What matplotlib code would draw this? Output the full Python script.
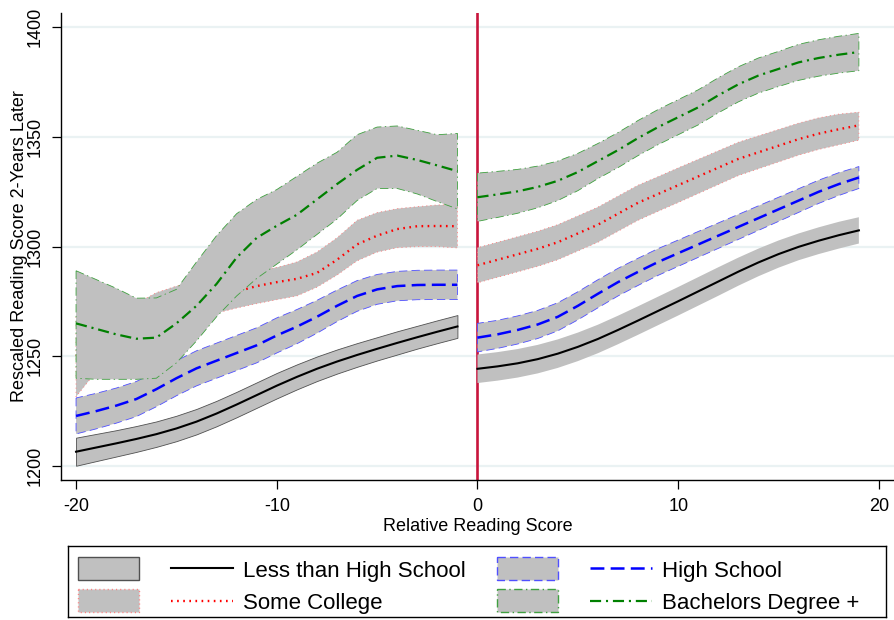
import matplotlib
matplotlib.use("Agg")
import matplotlib.pyplot as plt
from matplotlib.patches import Rectangle
from matplotlib.lines import Line2D

plt.rcParams['font.family'] = ['Liberation Sans', 'DejaVu Sans']
plt.rcParams['lines.scale_dashes'] = False

# ---------------- data ----------------
x_left = [-20, -19, -18, -17, -16, -15, -14, -13, -12, -11, -10, -9, -8, -7, -6, -5, -4, -3, -2, -1]
x_right = [0, 1, 2, 3, 4, 5, 6, 7, 8, 9, 10, 11, 12, 13, 14, 15, 16, 17, 18, 19]

# Less than High School
lths_left = [1206.5, 1208.4, 1210.3, 1212.3, 1214.5, 1217.1, 1220.2, 1223.9, 1228, 1232.3, 1236.6, 1240.6, 1244.3, 1247.6, 1250.6, 1253.4, 1256.1, 1258.7, 1261.2, 1263.6]
lths_left_lo = [1200.1, 1202.2, 1204.3, 1206.4, 1208.7, 1211.3, 1214.4, 1218.1, 1222.2, 1226.5, 1230.8, 1234.9, 1238.7, 1242.1, 1245.2, 1248.1, 1250.8, 1253.5, 1256, 1258.4]
lths_left_hi = [1212.9, 1214.6, 1216.3, 1218.2, 1220.3, 1222.9, 1226, 1229.7, 1233.8, 1238.1, 1242.4, 1246.3, 1249.9, 1253.1, 1256, 1258.7, 1261.4, 1263.9, 1266.4, 1268.8]
lths_right = [1244.3, 1245.4, 1246.8, 1248.7, 1251.2, 1254.3, 1257.9, 1262, 1266.3, 1270.7, 1275.1, 1279.6, 1284.1, 1288.6, 1292.8, 1296.6, 1299.9, 1302.7, 1305.2, 1307.4]
lths_right_lo = [1237.8, 1238.9, 1240.3, 1242.2, 1244.7, 1247.8, 1251.4, 1255.5, 1259.8, 1264.2, 1268.6, 1273.1, 1277.6, 1282.2, 1286.5, 1290.4, 1293.8, 1296.6, 1299.1, 1301.4]
lths_right_hi = [1250.8, 1251.9, 1253.3, 1255.2, 1257.7, 1260.8, 1264.4, 1268.5, 1272.8, 1277.2, 1281.6, 1286.1, 1290.6, 1295, 1299.1, 1302.8, 1306, 1308.8, 1311.3, 1313.4]

# High School
hs_left = [1222.8, 1225, 1227.5, 1230.5, 1235, 1240, 1244.5, 1248, 1251.5, 1255, 1259.5, 1263.5, 1268, 1273, 1277.5, 1280.5, 1282, 1282.5, 1282.6, 1282.6]
hs_left_lo = [1214.6, 1216.9, 1219.5, 1222.5, 1227, 1232, 1236.5, 1240, 1243.5, 1247, 1251.5, 1255.7, 1260.5, 1265.8, 1270.5, 1273.7, 1275.3, 1275.8, 1275.9, 1275.9]
hs_left_hi = [1231, 1233.1, 1235.5, 1238.5, 1243, 1248, 1252.5, 1256, 1259.5, 1263, 1267.5, 1271.3, 1275.5, 1280.2, 1284.5, 1287.3, 1288.7, 1289.2, 1289.3, 1289.3]
hs_right = [1258.5, 1260, 1262, 1264.5, 1268, 1273, 1278.5, 1283.8, 1288.5, 1293, 1297, 1301, 1305, 1309, 1313, 1317, 1321, 1325, 1328.5, 1331.5]
hs_right_lo = [1252, 1253.6, 1255.6, 1258.1, 1261.6, 1266.6, 1272.1, 1277.5, 1282.3, 1286.9, 1291, 1295.1, 1299.2, 1303.3, 1307.4, 1311.5, 1315.6, 1319.7, 1323.3, 1326.5]
hs_right_hi = [1265, 1266.4, 1268.4, 1270.9, 1274.4, 1279.4, 1284.9, 1290.1, 1294.7, 1299.1, 1303, 1306.9, 1310.8, 1314.7, 1318.6, 1322.5, 1326.4, 1330.3, 1333.7, 1336.5]

# Some College
sc_left = [1250, 1255, 1258, 1261, 1264, 1268, 1272, 1276, 1279.5, 1282, 1283.8, 1285.3, 1288, 1294, 1301, 1305, 1308, 1309.3, 1309.4, 1309.3]
sc_left_lo = [1231.6, 1243, 1247, 1250, 1253, 1257, 1262, 1269.7, 1272, 1274, 1275.8, 1277.5, 1281.5, 1287, 1293.5, 1297.5, 1299.5, 1300, 1300, 1299.4]
sc_left_hi = [1268, 1270, 1271.5, 1274, 1279, 1282, 1284, 1287, 1288, 1289, 1290.5, 1293, 1297.5, 1304, 1312, 1315.5, 1317.3, 1318.2, 1319, 1319]
sc_right = [1291.5, 1294, 1296.5, 1299, 1302, 1306, 1310, 1315, 1320, 1324, 1328, 1332, 1336, 1340, 1343, 1346, 1349, 1351.5, 1353.5, 1355.3]
sc_right_lo = [1283.5, 1286, 1288.5, 1291, 1294, 1298, 1302, 1307, 1312, 1316.1, 1320.1, 1324.2, 1328.3, 1332.4, 1335.5, 1338.6, 1341.7, 1344.3, 1346.4, 1348.5]
sc_right_hi = [1299.5, 1302, 1304.5, 1307, 1310, 1314, 1318, 1323, 1328, 1331.9, 1335.9, 1339.8, 1343.7, 1347.6, 1350.5, 1353.4, 1356.3, 1358.7, 1360.4, 1361.3]

# Bachelors Degree +
ba_left = [1265, 1262.5, 1260, 1258, 1258.5, 1265, 1273, 1283, 1295, 1304, 1309.5, 1314.5, 1321.5, 1328.5, 1335, 1340.5, 1341.5, 1339.5, 1337, 1334.4]
ba_left_lo = [1240, 1239.5, 1239.5, 1239.5, 1240, 1247, 1257, 1268, 1277.5, 1285.5, 1292, 1298.5, 1305.5, 1312.5, 1321, 1326.5, 1326.5, 1324, 1320.5, 1317.2]
ba_left_hi = [1289, 1285, 1281, 1276.5, 1276.6, 1280.5, 1293, 1305, 1315, 1321.5, 1326, 1332, 1338, 1343, 1351, 1354.5, 1355, 1353, 1351, 1351.6]
ba_right = [1322.5, 1323.8, 1325.2, 1327.2, 1330, 1334, 1339, 1344, 1349.5, 1354.5, 1359, 1363.5, 1369, 1374, 1378, 1381, 1384, 1386, 1387.5, 1388.7]
ba_right_lo = [1311.5, 1313.3, 1315.2, 1317.7, 1321, 1325.5, 1331, 1336, 1341.5, 1346.5, 1351, 1355.5, 1361, 1366, 1370, 1373, 1375.8, 1377.7, 1379.1, 1380.2]
ba_right_hi = [1333.5, 1334.3, 1335.2, 1336.7, 1339, 1342.5, 1347, 1352, 1357.5, 1362.5, 1367, 1371.5, 1377, 1382, 1386, 1389, 1392.2, 1394.3, 1395.9, 1397.2]

labels = ["Less than High School", "High School", "Some College", "Bachelors Degree +"]
x_ticks = [-20, -10, 0, 10, 20]
y_ticks = [1200, 1250, 1300, 1350, 1400]
cutoff = 0

# ---------------- styles ----------------
BAND = '#C0C0C0'
styles = {
    "Less than High School": dict(color='black', ls='-', lw=1.5,
                                  edge_left='#505050', edge_right='none', edge_ls='-'),
    "High School": dict(color='#0000FF', ls=(0, (10, 4.5)), lw=1.8,
                        edge_left='#5050FF', edge_right='#5050FF', edge_ls=(0, (6, 3))),
    "Some College": dict(color='#FF0000', ls=(0, (1.2, 3.2)), lw=1.7,
                         edge_left='#FF8080', edge_right='#FF8080', edge_ls=(0, (0.8, 2.2))),
    "Bachelors Degree +": dict(color='#008000', ls=(0, (8, 3.5, 1.5, 3.5)), lw=1.6,
                               edge_left='#40A040', edge_right='#40A040', edge_ls=(0, (6, 2.5, 1, 2.5))),
}

series = [
    ("Less than High School", lths_left, lths_left_lo, lths_left_hi, lths_right, lths_right_lo, lths_right_hi),
    ("High School", hs_left, hs_left_lo, hs_left_hi, hs_right, hs_right_lo, hs_right_hi),
    ("Some College", sc_left, sc_left_lo, sc_left_hi, sc_right, sc_right_lo, sc_right_hi),
    ("Bachelors Degree +", ba_left, ba_left_lo, ba_left_hi, ba_right, ba_right_lo, ba_right_hi),
]

W, H = 895, 620
fig = plt.figure(figsize=(W / 100, H / 100), dpi=100)
fig.patch.set_facecolor('white')

ax = fig.add_axes([61 / W, 1 - 480 / H, (W - 61) / W, (480 - 13) / H])
ax.set_xlim(-20.75, 20.80)
ax.set_ylim(1193.6, 1406.5)

for yt in y_ticks:
    ax.axhline(yt, color='#EAF2F3', lw=1.6, zorder=0)

ax.axvline(cutoff, color='#C8143C', lw=1.9, zorder=1)

z = 2
for name, yl, yl_lo, yl_hi, yr, yr_lo, yr_hi in series:
    s = styles[name]
    for xs, ym, lo, hi, ec in [(x_left, yl, yl_lo, yl_hi, s['edge_left']),
                               (x_right, yr, yr_lo, yr_hi, s['edge_right'])]:
        ax.fill_between(xs, lo, hi, facecolor=BAND, edgecolor=ec,
                        linewidth=0.6 if ec != 'none' else 0, linestyle=s['edge_ls'], zorder=z)
        ax.plot(xs, ym, color=s['color'], linestyle=s['ls'], lw=s['lw'], zorder=z + 1)
    z += 2

for side in ['top', 'right']:
    ax.spines[side].set_visible(False)
ax.spines['left'].set_linewidth(1.0)
ax.spines['bottom'].set_linewidth(1.0)

ax.set_xticks(x_ticks)
ax.set_xticklabels([str(v) for v in x_ticks])
ax.set_yticks(y_ticks)
ax.set_yticklabels([str(v) for v in y_ticks], rotation=90, va='center')
ax.tick_params(axis='both', direction='out', length=6.5, width=0.9, labelsize=13, colors='black')
ax.tick_params(axis='x', pad=6.5)
ax.tick_params(axis='y', pad=6)
ax.set_xlabel("Relative Reading Score", fontsize=13, labelpad=2)
ax.set_ylabel("Rescaled Reading Score 2-Years Later", fontsize=13, labelpad=-1)

# ---------------- legend ----------------
lx0, ly0, lx1, ly1 = 68, 546, 886, 617
lg = fig.add_axes([lx0 / W, 1 - ly1 / H, (lx1 - lx0) / W, (ly1 - ly0) / H])
lg.set_xlim(0, lx1 - lx0)
lg.set_ylim(ly1 - ly0, 0)
lg.set_xticks([])
lg.set_yticks([])
for sp in lg.spines.values():
    sp.set_linewidth(1.0)
    sp.set_color('black')

legend_slots = {
    "Less than High School": (10, 22.3, 30.7),
    "Some College": (10, 54.7, 63),
    "High School": (429, 22.3, 30.7),
    "Bachelors Degree +": (429, 54.7, 63),
}
for name, (px, ymid, ybase) in legend_slots.items():
    s = styles[name]
    ec = s['edge_left']
    lg.add_patch(Rectangle((px, ymid - 11.3), 61, 22.6, facecolor=BAND,
                           edgecolor=ec, lw=1.0, linestyle=s['edge_ls']))
    lg.add_line(Line2D([px + 93, px + 155], [ymid, ymid], color=s['color'],
                       linestyle=s['ls'], lw=s['lw']))
    lg.text(px + 165, ybase, name, fontsize=16, va='baseline', ha='left')

fig.savefig("out.png", dpi=100, facecolor='white')
